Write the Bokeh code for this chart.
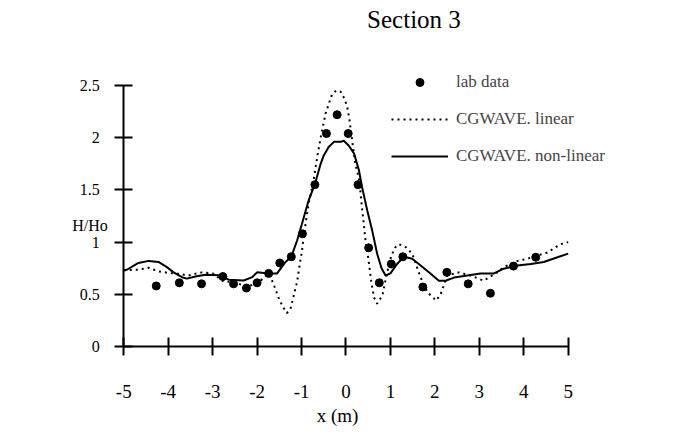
from bokeh.plotting import figure
from bokeh.models import Legend, LegendItem, Label, FixedTicker, Range1d, LinearAxis
from bokeh.embed import file_html
from bokeh.resources import INLINE

title_text = "Section 3"
x_label = "x (m)"
y_label = "H/Ho"
x_ticks = [-5, -4, -3, -2, -1, 0, 1, 2, 3, 4, 5]
x_tick_labels = ["-5", "-4", "-3", "-2", "-1", "0", "1", "2", "3", "4", "5"]
y_ticks = [0, 0.5, 1, 1.5, 2, 2.5]
y_tick_labels = ["0", "0.5", "1", "1.5", "2", "2.5"]

# lab data
lab_x = [-4.27, -3.75, -3.25, -2.77, -2.53, -2.24, -2.0, -1.74, -1.49, -1.23, -0.98, -0.70,
         -0.44, -0.20, 0.05, 0.27, 0.51, 0.75, 1.02, 1.28, 1.73, 2.27, 2.75, 3.25, 3.77, 4.27]
lab_y = [0.58, 0.61, 0.60, 0.67, 0.60, 0.56, 0.61, 0.70, 0.80, 0.86, 1.08, 1.55,
         2.04, 2.22, 2.04, 1.55, 0.945, 0.61, 0.79, 0.86, 0.57, 0.71, 0.60, 0.51, 0.77, 0.855]

# CGWAVE linear
lin_x = [-5.0, -4.67, -4.44, -4.22, -4.0, -3.77, -3.55, -3.39, -3.24, -3.0, -2.75, -2.53,
         -2.23, -1.96, -1.74, -1.63, -1.52, -1.42, -1.33, -1.25, -1.18, -1.10, -1.05, -0.99,
         -0.91, -0.84, -0.73, -0.65, -0.57, -0.46, -0.39, -0.31, -0.22, -0.12, -0.03, 0.03,
         0.08, 0.14, 0.21, 0.30, 0.35, 0.40, 0.44, 0.51, 0.57, 0.63, 0.70, 0.82, 0.92, 1.02,
         1.11, 1.19, 1.35, 1.49, 1.68, 1.83, 2.03, 2.13, 2.28, 2.54, 2.80, 3.10, 3.40, 3.55,
         3.86, 4.08, 4.30, 4.53, 4.83, 5.0]
lin_y = [0.73, 0.735, 0.754, 0.72, 0.705, 0.696, 0.68, 0.696, 0.71, 0.70, 0.62, 0.62,
         0.57, 0.616, 0.70, 0.60, 0.47, 0.38, 0.32, 0.36, 0.48, 0.62, 0.76, 0.92,
         1.175, 1.37, 1.59, 1.81, 2.0, 2.23, 2.32, 2.42, 2.45, 2.44, 2.37, 2.29,
         2.165, 1.97, 1.75, 1.59, 1.37, 1.175, 1.015, 0.82, 0.616, 0.47, 0.41, 0.49, 0.70, 0.87,
         0.95, 0.98, 0.95, 0.89, 0.66, 0.52, 0.44, 0.50, 0.68, 0.71, 0.68, 0.63, 0.71, 0.76,
         0.82, 0.84, 0.87, 0.90, 0.98, 1.0]

# CGWAVE non-linear
nl_x = [-5.0, -4.93, -4.67, -4.44, -4.22, -4.03, -3.88, -3.69, -3.58, -3.39, -3.16, -2.86,
        -2.64, -2.30, -2.11, -2.0, -1.74, -1.55, -1.36, -1.23, -1.10, -0.99, -0.84, -0.70,
        -0.57, -0.50, -0.39, -0.27, -0.12, -0.05, 0.06, 0.18, 0.29, 0.36, 0.48, 0.59, 0.70,
        0.80, 0.89, 1.0, 1.15, 1.30, 1.49, 1.68, 1.90, 2.09, 2.24, 2.43, 2.73, 3.03, 3.33,
        3.55, 3.86, 4.16, 4.45, 4.76, 5.0]
nl_y = [0.73, 0.735, 0.80, 0.82, 0.81, 0.76, 0.71, 0.664, 0.65, 0.67, 0.687, 0.683,
        0.64, 0.632, 0.664, 0.71, 0.70, 0.70, 0.81, 0.86, 1.015, 1.175, 1.40, 1.555,
        1.75, 1.83, 1.91, 1.96, 1.96, 1.97, 1.925, 1.85, 1.69, 1.53, 1.30, 1.11, 0.89,
        0.75, 0.68, 0.70, 0.79, 0.86, 0.84, 0.776, 0.70, 0.63, 0.63, 0.66, 0.68, 0.70, 0.70,
        0.745, 0.776, 0.79, 0.81, 0.855, 0.89]

FONT = "Liberation Serif"

p = figure(width=694, height=436, x_range=Range1d(-6.694, 6.312), y_range=Range1d(-0.0958, 3.314),
           output_backend="svg", toolbar_location=None, title=None, x_axis_location=None,
           min_border_left=48, min_border_right=68, min_border_top=0, min_border_bottom=80)
p.grid.visible = False
p.outline_line_color = None
p.background_fill_color = "white"
p.border_fill_color = "white"

r_lab = p.scatter(lab_x, lab_y, size=8, color="black")
r_lin = p.line(lin_x, lin_y, line_color="black", line_width=2, line_dash="2 4")
r_nl = p.line(nl_x, nl_y, line_color="black", line_width=2)

# x axis line and ticks, drawn at y = 0 (its labels are not painted)
x_line_axis = LinearAxis(fixed_location=0, bounds=(-5, 5), ticker=FixedTicker(ticks=x_ticks),
                         axis_line_width=2, axis_line_color="black",
                         major_tick_line_width=2, major_tick_line_color="black",
                         major_tick_in=9, major_tick_out=9, minor_tick_line_color=None,
                         major_label_text_color=None, major_label_text_font_size="1px",
                         major_label_standoff=0)
p.add_layout(x_line_axis, "below")

# x tick labels and axis title
x_label_axis = LinearAxis(bounds=(-5, 5), ticker=FixedTicker(ticks=x_ticks),
                          axis_line_color=None, major_tick_line_color=None,
                          major_tick_in=0, major_tick_out=0, minor_tick_line_color=None,
                          major_label_overrides={t: s for t, s in zip(x_ticks, x_tick_labels)},
                          major_label_text_font=FONT, major_label_text_font_size="19px",
                          major_label_text_color="black", major_label_standoff=28,
                          axis_label=x_label, axis_label_text_font=FONT,
                          axis_label_text_font_size="19px", axis_label_text_font_style="normal",
                          axis_label_text_color="black", axis_label_standoff=4)
p.add_layout(x_label_axis, "below")

yax = p.yaxis[0]
yax.fixed_location = -5
yax.bounds = (0, 2.5)
yax.ticker = FixedTicker(ticks=y_ticks)
yax.major_label_overrides = {t: s for t, s in zip(y_ticks, y_tick_labels)}
yax.axis_line_width = 2
yax.axis_line_color = "black"
yax.major_tick_line_width = 2
yax.major_tick_line_color = "black"
yax.major_tick_in = 9
yax.major_tick_out = 9
yax.minor_tick_line_color = None
yax.major_label_text_font = FONT
yax.major_label_text_color = "black"
yax.major_label_text_font_size = "16px"
yax.major_label_standoff = 15

p.add_layout(Label(x=1.53, y=3.132, text=title_text, text_align="center", text_baseline="middle",
                   text_font=FONT, text_font_size="25px", text_color="black"))
p.add_layout(Label(x=-5.76, y=1.159, text=y_label, text_align="center", text_baseline="middle",
                   text_font=FONT, text_font_size="16px", text_color="black"))

legend = Legend(items=[LegendItem(label="lab data", renderers=[r_lab]),
                       LegendItem(label="CGWAVE. linear", renderers=[r_lin]),
                       LegendItem(label="CGWAVE. non-linear", renderers=[r_nl])],
                location=(343, 190), glyph_width=57, glyph_height=20, label_height=20,
                label_standoff=8, spacing=17, padding=0, margin=0,
                border_line_color=None, background_fill_alpha=0,
                label_text_font=FONT, label_text_font_size="17px")
p.add_layout(legend, "center")

open("out.html", "w").write(file_html(p, INLINE))
